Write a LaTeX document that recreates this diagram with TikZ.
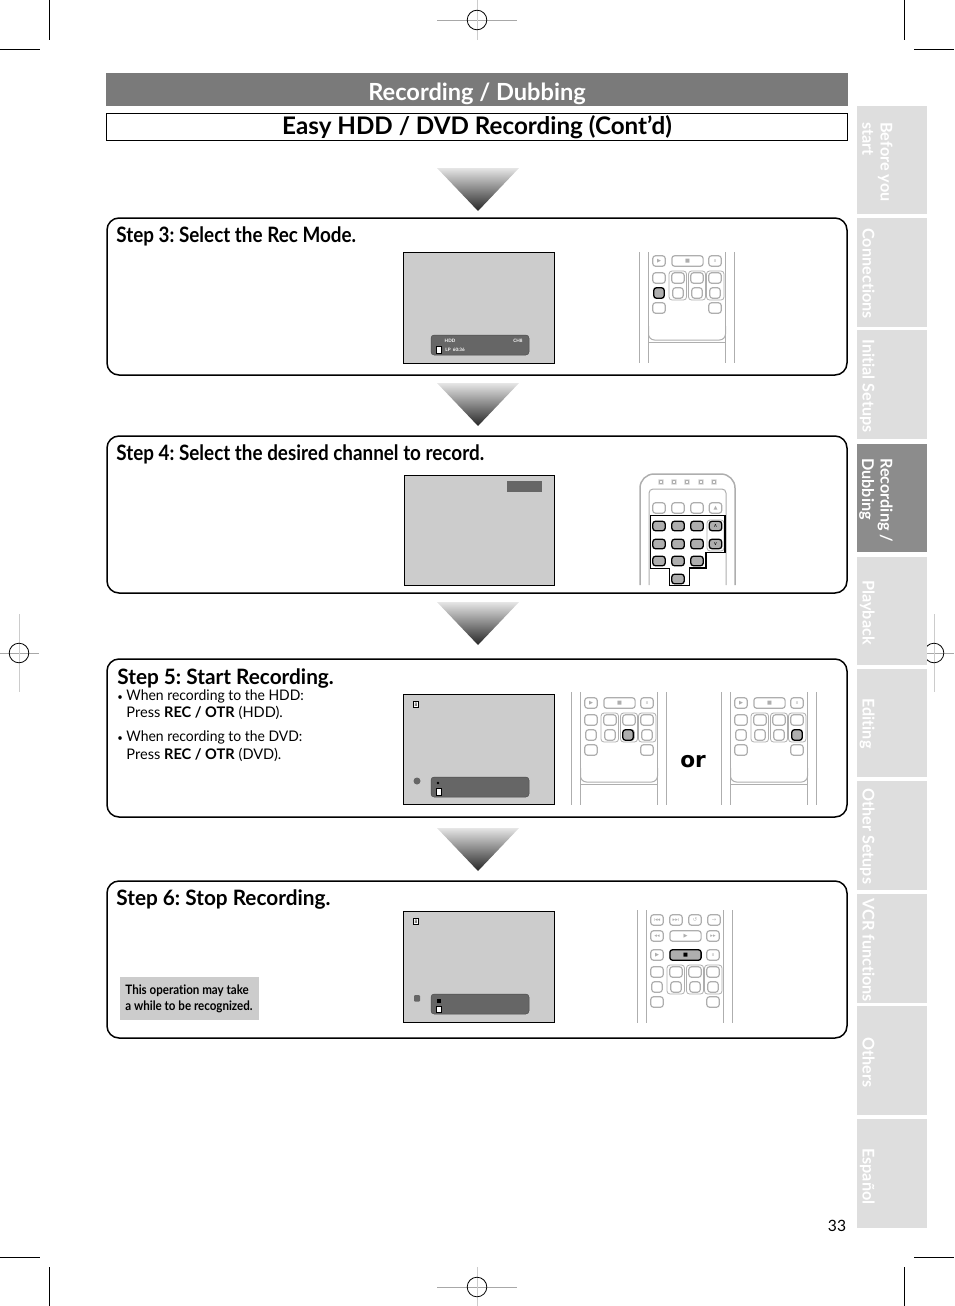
\documentclass[tikz,border=0pt]{standalone}
\usepackage{fontspec}
\setmainfont[Ligatures=NoCommon]{Lato}
\newfontfamily\narrowfont[Ligatures=NoCommon,FakeStretch=.89,BoldFeatures={FakeStretch=.89}]{Lato}
\newfontfamily\slightfont[Ligatures=NoCommon,FakeStretch=.98,BoldFeatures={FakeStretch=.98}]{Lato}
\newfontfamily\whenfont[Ligatures=NoCommon,FakeStretch=.955]{Lato}
\newfontfamily\glyphfont{DejaVu Sans}
\newfontfamily\orfont{DejaVu Sans}
\definecolor{headgray}{HTML}{7A7A7A}
\definecolor{tabgray}{HTML}{DEDEDE}
\definecolor{tabdark}{HTML}{8C8C8C}
\definecolor{screengray}{HTML}{CCCCCC}
\definecolor{bannergray}{HTML}{666666}
\definecolor{keygray}{HTML}{AEAEAE}
\definecolor{markgray}{HTML}{A8A8A8}
\tikzset{
  stepframe/.style={draw=black,line width=.75pt,rounded corners=6pt},
  steptitle/.style={anchor=base west,inner sep=0,font=\narrowfont\bfseries\fontsize{10.6}{12}\selectfont},
  steptitlewide/.style={anchor=base west,inner sep=0,font=\slightfont\bfseries\fontsize{10.6}{12}\selectfont},
  bodyline/.style={anchor=base west,inner sep=0,font=\fontsize{7.3}{9}\selectfont},
  whenline/.style={bodyline,font=\whenfont\fontsize{7.3}{9}\selectfont},
  notetext/.style={anchor=base west,inner sep=0,font=\narrowfont\bfseries\fontsize{6.5}{8}\selectfont},
  tabbox/.style={fill=tabgray,minimum width=35pt,inner sep=0},
  tabtext/.style={anchor=north west,rotate=-90,inner sep=0,text=white,align=left,
    font=\bfseries\fontsize{8.1}{9.2}\selectfont},
  screenbox/.style={draw=black,line width=.5pt,fill=screengray},
  bannerbox/.style={fill=bannergray,draw=black!70,line width=.25pt,rounded corners=1.6pt},
  whitemark/.style={draw=black,line width=.5pt,fill=white},
  tinytext/.style={inner sep=0,text=white,font=\bfseries\fontsize{2.3}{2.6}\selectfont},
  keybtn/.style={draw=keygray,line width=.6pt,fill=white,rounded corners=1.3pt,inner sep=0,
    minimum width=6.2pt,minimum height=5.2pt,text=keygray,font=\glyphfont\fontsize{2.6}{3}\selectfont},
  widebtn/.style={keybtn,minimum width=15.6pt},
  hotbtn/.style={draw=black,line width=.65pt,fill=keygray,rounded corners=1.3pt,inner sep=0,
    minimum width=5.2pt,minimum height=5.2pt,font=\glyphfont\fontsize{2.6}{3}\selectfont},
  numbtn/.style={hotbtn,minimum width=6.2pt,minimum height=4.7pt},
  keygroup/.style={draw=keygray,line width=.4pt,rounded corners=1.5pt},
  railline/.style={draw=keygray,line width=.75pt},
  cropline/.style={draw=black,line width=.4pt},
  regline/.style={draw=markgray,line width=.5pt},
  arrowtri/.style={top color=black!10,bottom color=black!85,draw=none},
}
% side rails of a remote, keys origin at #1, from y #2 to y #3
\newcommand{\remoterails}[3]{
  \draw[railline] (#1-19.5,#2) -- (#1-19.5,#3);
  \draw[railline] (#1-10.5,#2) -- (#1-10.5,#3);
  \draw[railline] (#1+66.5,#2) -- (#1+66.5,#3);
  \draw[railline] (#1+75.5,#2) -- (#1+75.5,#3);
}
% lower edge of the keypad cover
\newcommand{\remotepanel}[2]{
  \draw[keygroup,line width=.5pt,rounded corners=3pt] (#1-10.5,#2+65) -- (#1-10.5,#2+79) -- (#1+66.5,#2+79) -- (#1+66.5,#2+65);
  \draw[keygroup,line width=.5pt] (#1-10.5,#2+81) -- (#1+66.5,#2+81);
}
% the two lower key rows with the last transport row
\newcommand{\remotekeys}[3]{
  \begin{scope}[shift={(#2,#3)},name prefix=#1]
    \node[keybtn] (play) at (0,0) {▶};
    \node[widebtn] (stop) at (28.5,0) {■};
    \node[keybtn] (pause) at (56,0) {ıı};

    \node[keybtn] (ka) at (0,17) {};
    \node[keybtn] (kb) at (19,17) {};
    \node[keybtn] (kc) at (38,17) {};
    \node[keybtn] (kd) at (56,17) {};
    \node[keybtn,minimum width=5.2pt] (ke) at (0,32) {};
    \node[keybtn,minimum width=5.2pt] (kf) at (19,32) {};
    \node[keybtn,minimum width=5.2pt] (kg) at (38,32) {};
    \node[keybtn,minimum width=5.2pt] (kh) at (56,32) {};
    \node[keybtn] (ki) at (0,47) {};
    \node[keybtn] (kj) at (56,47) {};

    \draw[keygroup] (10,10) rectangle (27.5,39);
    \draw[keygroup] (29.5,10) rectangle (46.5,39);
    \draw[keygroup] (47.5,10) rectangle (65,39);
  \end{scope}
}
\begin{document}
\frenchspacing
\begin{tikzpicture}[x=.5pt,y=-.5pt]
  \useasboundingbox (0,0) rectangle (954,1306);

  % crop marks
  \draw[cropline] (49,0) -- (49,40);
  \draw[cropline] (0,49) -- (40,49);
  \draw[cropline] (904,0) -- (904,40);
  \draw[cropline] (914,49) -- (954,49);
  \draw[cropline] (49,1267) -- (49,1306);
  \draw[cropline] (0,1257) -- (40,1257);
  \draw[cropline] (904,1267) -- (904,1306);
  \draw[cropline] (914,1257) -- (954,1257);

  % registration marks
  \draw[regline] (437,20) -- (517,20);
  \draw[regline,black!20] (477,0) -- (477,40);
  \draw[cropline] (477,20) circle (9.8);
  \draw[regline] (437,1287) -- (517,1287);
  \draw[regline,black!20] (477,1267) -- (477,1306);
  \draw[cropline] (477,1287) circle (9.8);
  \draw[regline] (0,653) -- (39,653);
  \draw[regline,black!20] (19,614) -- (19,692);
  \draw[cropline] (19,653) circle (9.8);
  \draw[regline] (914,653) -- (954,653);
  \draw[regline,black!20] (934,614) -- (934,692);
  \draw[cropline] (934,653) circle (9.8);

  % heading
  \fill[headgray] (106,73) rectangle (848,106);
  \node[inner sep=0,text=white,font=\bfseries\fontsize{11.8}{14}\selectfont] (head) at (477,93.5) {Recording / Dubbing};
  \draw[line width=.5pt] (106.5,113.5) rectangle (847.5,140);
  \node[inner sep=0,font=\bfseries\fontsize{12.1}{14}\selectfont] (subhead) at (477,127.5) {Easy HDD / DVD Recording (Cont’d)};

  % arrows between the steps
  \shade[arrowtri] (437,168) -- (519,168) -- (478,211) -- cycle;
  \shade[arrowtri] (437,383) -- (519,383) -- (478,426) -- cycle;
  \shade[arrowtri] (437,602) -- (519,602) -- (478,645) -- cycle;
  \shade[arrowtri] (437,828) -- (519,828) -- (478,871) -- cycle;

  % step frames
  \draw[stepframe] (107,218) rectangle (847,375);
  \draw[stepframe] (107,436) rectangle (847,593);
  \draw[stepframe] (107,659) rectangle (847,817);
  \draw[stepframe] (107,881) rectangle (847,1038);

  \node[steptitle] (stepc) at (116,242) {Step 3: Select the Rec Mode.};
  \node[steptitle] (stepd) at (116,460) {Step 4: Select the desired channel to record.};
  \node[steptitlewide] (stepe) at (117,684) {Step 5: Start Recording.};
  \node[steptitlewide] (stepf) at (116,905) {Step 6: Stop Recording.};

  \node[whenline] (bulleta) at (117,700.5) {\makebox[4.5pt][l]{\fontsize{5}{6}\selectfont•}When recording to the HDD:};
  \node[bodyline] (pressa) at (126,717.5) {Press \textbf{REC / OTR} (HDD).};
  \node[whenline] (bulletb) at (117,741.5) {\makebox[4.5pt][l]{\fontsize{5}{6}\selectfont•}When recording to the DVD:};
  \node[bodyline] (pressb) at (126,759.5) {Press \textbf{REC / OTR} (DVD).};

  \fill[screengray] (120,977) rectangle (259,1020);
  \node[notetext] (notea) at (125,994) {This operation may take};
  \node[notetext] (noteb) at (125,1010) {a while to be recognized.};

  % step 3 screen
  \draw[screenbox] (403.5,252.5) rectangle (554.5,363);
  \draw[bannerbox] (431,335) rectangle (529,355);
  \node[tinytext] (hddlabel) at (450,340.5) {HDD};
  \node[tinytext] (chlabel) at (518,340.5) {CH8};
  \node[tinytext,anchor=west] (lplabel) at (445,350) {LP\ \ 60:36};
  \draw[whitemark] (436,346) rectangle (441.5,353);

  % step 4 screen
  \draw[screenbox] (404.5,475.5) rectangle (554.5,585.5);
  \fill[bannergray] (507,481) rectangle (542,492);

  % step 5 screen
  \draw[screenbox] (403.5,694.5) rectangle (554.5,804.5);
  \draw[whitemark] (413.5,701) rectangle (418.5,707.5);
  \node[inner sep=0,font=\fontsize{2.4}{3}\selectfont] (iconc) at (416,704.3) {8};
  \fill[bannergray] (417,781) circle (3.5);
  \draw[bannerbox] (431,777) rectangle (529,797);
  \fill[black] (438,783) circle (1.3);
  \draw[whitemark] (436,788) rectangle (441.5,795);

  % step 6 screen
  \draw[screenbox] (403.5,911.5) rectangle (554.5,1022);
  \draw[whitemark] (413.5,918) rectangle (418.5,924.5);
  \node[inner sep=0,font=\fontsize{2.4}{3}\selectfont] (icond) at (416,921.3) {8};
  \fill[bannergray,rounded corners=.5pt] (414,995) rectangle (420,1001.5);
  \draw[bannerbox] (431,994) rectangle (529,1014);
  \fill[black] (436.5,998.5) rectangle (440.5,1002.5);
  \draw[whitemark] (436,1006) rectangle (441.5,1012.5);

  % step 3 remote
  \remoterails{659}{252}{363}
  \remotepanel{659}{261}
  \remotekeys{c}{659}{261}
  \node[hotbtn] (hotc) at (659,293) {};

  % step 4 remote
  \draw[railline,rounded corners=7pt] (640,585) -- (640,474) -- (735,474) -- (735,585);
  \draw[keygroup,line width=.5pt,rounded corners=2pt] (649,585) -- (649,489) -- (726,489) -- (726,585);
  \node[keybtn,minimum width=2pt,minimum height=2pt,line width=.4pt] (lampa) at (661,482) {};
  \node[keybtn,minimum width=2pt,minimum height=2pt,line width=.4pt] (lampb) at (674,482) {};
  \node[keybtn,minimum width=2pt,minimum height=2pt,line width=.4pt] (lampc) at (687,482) {};
  \node[keybtn,minimum width=2pt,minimum height=2pt,line width=.4pt] (lampd) at (701,482) {};
  \node[keybtn,minimum width=2pt,minimum height=2pt,line width=.4pt] (lampe) at (714,482) {};
  \node[keybtn] (topa) at (659,508) {};
  \node[keybtn] (topb) at (678,508) {};
  \node[keybtn] (topc) at (697,508) {};
  \node[keybtn] (topd) at (715.5,508) {▲};
  \node[numbtn] (numa) at (659,526) {};
  \node[numbtn] (numb) at (678,526) {};
  \node[numbtn] (numc) at (697,526) {};
  \node[numbtn] (chup) at (715.5,526) {∧};
  \node[numbtn] (numd) at (659,544) {};
  \node[numbtn] (nume) at (678,544) {};
  \node[numbtn] (numf) at (697,544) {};
  \node[numbtn] (chdown) at (715.5,544) {∨};
  \node[numbtn] (numg) at (659,561) {};
  \node[numbtn] (numh) at (678,561) {};
  \node[numbtn] (numi) at (697,561) {};
  \node[numbtn] (numj) at (678,579) {};
  \draw[keygroup] (707,520) rectangle (724,551);
  \draw[line width=.4pt] (650,568) -- (650,515.5) -- (725,515.5) -- (725,552) -- (706,552) -- (706,568) -- (689,568) -- (689,585) -- (669,585) -- (669,568) -- cycle;
  \draw[line width=.9pt] (650,515.5) -- (725,515.5) -- (725,552);
  \draw[line width=.9pt] (706,552) -- (706,568) -- (689,568);

  % step 5 remotes
  \remoterails{591}{692}{805}
  \remotepanel{591}{703}
  \remotekeys{e}{591}{703}
  \node[hotbtn] (hote) at (628,735) {};
  \node[inner sep=0,font=\orfont\bfseries\fontsize{10.8}{13}\selectfont] (orword) at (693,762) {or};
  \remoterails{741}{692}{805}
  \remotepanel{741}{703}
  \remotekeys{f}{741}{703}
  \node[hotbtn] (hotf) at (797,735) {};

  % step 6 remote
  \remoterails{657}{910}{1023}
  \node[keybtn] (skipa) at (657,920) {ı◂◂};
  \node[keybtn] (skipb) at (676,920) {▸▸ı};
  \node[keybtn] (skipc) at (695,920) {↺};
  \node[keybtn] (skipd) at (714,920) {→};
  \node[keybtn] (reva) at (657,936) {◂◂};
  \node[widebtn] (playb) at (685.5,936) {▶};
  \node[keybtn] (ffa) at (713,936) {▸▸};
  \remotekeys{g}{657}{955}
  \node[hotbtn,minimum width=15.6pt] (hotg) at (685.5,955) {■};

  % side tabs
  \node[tabbox,minimum height=54pt,anchor=north west] (tabone) at (857,106) {};
  \node[tabbox,minimum height=54.5pt,anchor=north west] (tabtwo) at (857,218) {};
  \node[tabbox,minimum height=54.5pt,anchor=north west] (tabthree) at (857,330) {};
  \node[tabbox,fill=tabdark,minimum height=54pt,anchor=north west] (tabfour) at (857,444) {};
  \node[tabbox,minimum height=54pt,anchor=north west] (tabfive) at (857,557) {};
  \node[tabbox,minimum height=54pt,anchor=north west] (tabsix) at (857,669) {};
  \node[tabbox,minimum height=54.5pt,anchor=north west] (tabseven) at (857,781) {};
  \node[tabbox,minimum height=54.5pt,anchor=north west] (tabeight) at (857,894) {};
  \node[tabbox,minimum height=54.5pt,anchor=north west] (tabnine) at (857,1006) {};
  \node[tabbox,minimum height=54.5pt,anchor=north west] (tabten) at (857,1119) {};

  \node[tabtext] (texta) at (893,122) {Before you\\start};
  \node[tabtext] (textb) at (875,228) {Connections};
  \node[tabtext] (textc) at (875,339) {Initial Setups};
  \node[tabtext] (textd) at (893,458) {Recording /\\Dubbing};
  \node[tabtext] (texte) at (875,580) {Playback};
  \node[tabtext] (textf) at (875,698) {Editing};
  \node[tabtext] (textg) at (875,788) {Other Setups};
  \node[tabtext] (texth) at (875,898) {VCR functions};
  \node[tabtext] (texti) at (875,1037) {Others};
  \node[tabtext] (textj) at (875,1148) {Español};

  \node[inner sep=0,font=\fontsize{7.8}{10}\selectfont] (pagenum) at (837,1226) {33};
\end{tikzpicture}
\end{document}
